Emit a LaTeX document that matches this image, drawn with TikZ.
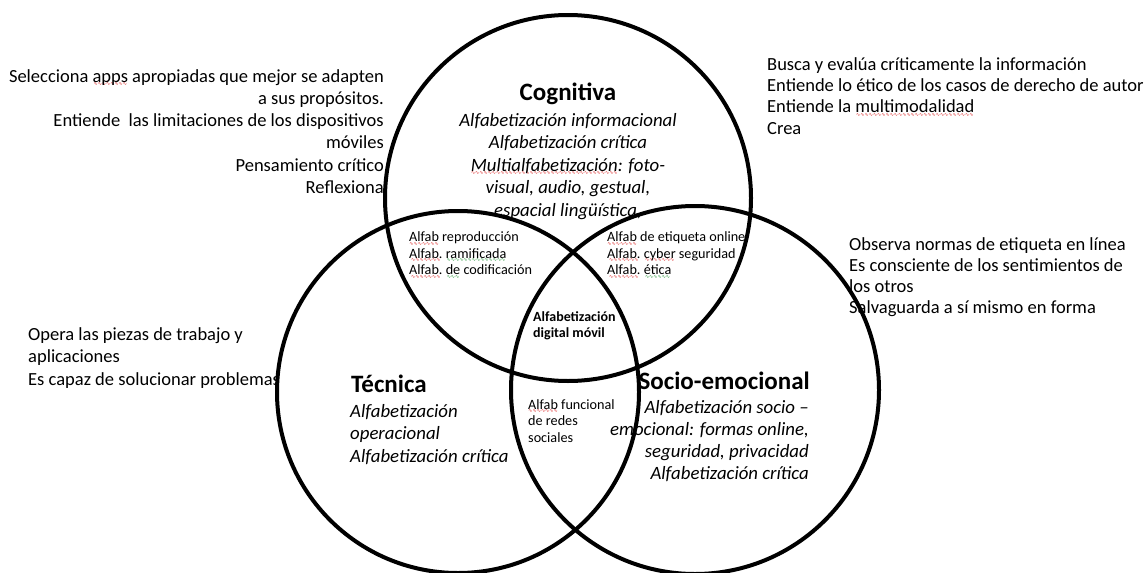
\documentclass[tikz,border=0pt]{standalone}
\usepackage{fontspec}
\setmainfont{Carlito}
\newfontfamily\wavefont{DejaVu Sans}
\definecolor{spellred}{RGB}{220,40,40}
\definecolor{spellgreen}{RGB}{40,150,60}
% wavy spell-check style underlines built from repeated wave glyphs
\newcommand\wavyline[2]{\setbox0=\hbox{#2}\rlap{\color{#1}\lower3.6pt\hbox to \wd0{\cleaders\hbox{\wavefont\fontsize{5}{5}\selectfont ∿}\hfil}}\box0\relax}
\newcommand\redwave[1]{\wavyline{spellred}{#1}}
\newcommand\greenwave[1]{\wavyline{spellgreen}{#1}}
\begin{document}
\begin{tikzpicture}[x=1pt,y=-1pt,
  ring/.style={draw=black,line width=4pt},
  txt/.style={inner sep=0pt,font=\fontsize{18.5}{22}\selectfont},
  lit/.style={inner sep=0pt,font=\fontsize{18.8}{22.5}\selectfont\itshape},
  head/.style={inner sep=0pt,font=\fontsize{25}{30}\selectfont\bfseries},
  tiny/.style={inner sep=0pt,font=\fontsize{14.2}{16.5}\selectfont},
]
\useasboundingbox (0,0) rectangle (1146,573);

% descriptions of competences around the diagram
\node[txt,font=\fontsize{18.5}{22.2}\selectfont,align=right,anchor=north east] (tl) at (384,66.5)
  {\strut Selecciona \redwave{apps} apropiadas que mejor se adapten\\
   a sus propósitos.\\
   Entiende~ las limitaciones de los dispositivos\\
   móviles\\
   Pensamiento crítico\\
   Reflexiona};
\node[txt,font=\fontsize{18.5}{21.3}\selectfont,align=left,anchor=north west] (tr) at (767,55.1)
  {\strut Busca y evalúa críticamente la información\\
   Entiende lo ético de los casos de derecho de autor\\
   Entiende la \redwave{multimodalidad}\\
   Crea};
\node[txt,font=\fontsize{18.5}{21}\selectfont,align=left,anchor=north west] (rt) at (849,235.3)
  {\strut Observa normas de etiqueta en línea\\
   Es consciente de los sentimientos de\\
   los otros\\
   Salvaguarda a sí mismo en forma};
\node[txt,font=\fontsize{18.5}{22.5}\selectfont,align=left,anchor=north west] (lf) at (28,324.3)
  {\strut Opera las piezas de trabajo y\\
   aplicaciones\\
   Es capaz de solucionar problemas};

% circle titles and literacies
\node[head,anchor=base] (cogT) at (568,100) {Cognitiva};
\node[lit,align=center,anchor=north] (cogL) at (568,110.3)
  {\strut Alfabetización informacional\\
   Alfabetización crítica\\
   \redwave{Multialfabetización}: foto-\\
   visual, audio, gestual,\\
   espacial lingüística,};
\node[head,anchor=base west] (tecT) at (351,392) {Técnica};
\node[lit,align=left,anchor=north west] (tecL) at (350,401.3)
  {\strut Alfabetización\\
   operacional\\
   Alfabetización crítica};
\node[head,anchor=base east] (socT) at (810,389) {Socio-emocional};
\node[lit,font=\fontsize{18.8}{22}\selectfont\itshape,align=right,anchor=north east] (socL) at (809,397.6)
  {\strut Alfabetización socio –\\
   emocional: formas online,\\
   seguridad, privacidad\\
   Alfabetización crítica};

% overlap labels
\node[tiny,align=left,anchor=north west] (ov1) at (409,230)
  {\strut \redwave{Alfab} reproducción\\
   \redwave{Alfab.} \greenwave{ramificada}\\
   \redwave{Alfab.} \greenwave{de} codificación};
\node[tiny,align=left,anchor=north west] (ov2) at (607,230)
  {\strut \redwave{Alfab} de etiqueta online\\
   \redwave{Alfab.} \redwave{cyber} seguridad\\
   \redwave{Alfab.} \greenwave{ética}};
\node[tiny,font=\fontsize{14}{16}\selectfont\bfseries,align=left,anchor=north west] (mid) at (533,309.8)
  {\strut Alfabetización\\ digital móvil};
\node[tiny,align=left,anchor=north west] (ov3) at (528,397.5)
  {\strut \redwave{Alfab} funcional\\ de redes\\ sociales};

% the three circles
\draw[ring] (568,198) circle[radius=183];
\draw[ring] (458,392) circle[radius=181];
\draw[ring] (695,390) circle[radius=184];
\end{tikzpicture}
\end{document}
